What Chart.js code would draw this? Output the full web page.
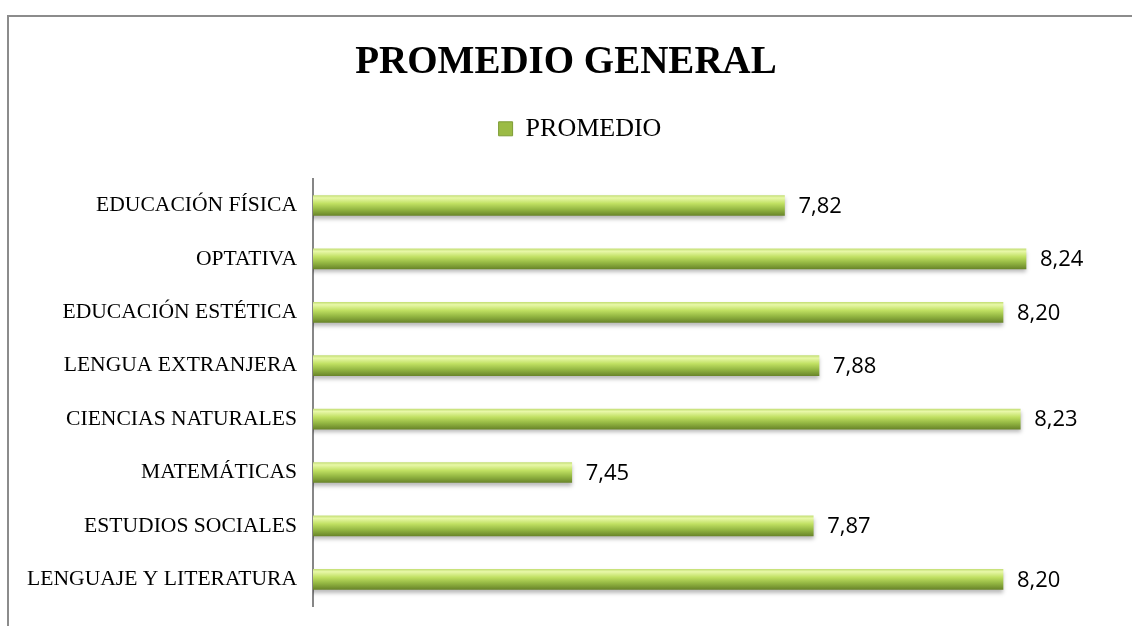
<!DOCTYPE html>
<html>
<head>
<meta charset="utf-8">
<script src="https://cdn.jsdelivr.net/npm/chart.js@4/dist/chart.umd.min.js"></script>
<style>
  html, body { margin: 0; padding: 0; background: #fff; overflow: hidden; }
  #frame {
    position: absolute; left: 7px; top: 15px; width: 1200px; height: 700px;
    border-top: 2px solid #8c8c8c; border-left: 2px solid #8c8c8c;
  }
  #wrap { position: absolute; left: 0; top: 0; width: 1132px; height: 626px; }
</style>
</head>
<body>
<div id="frame"></div>
<div id="wrap"><canvas id="promedio-chart" width="1132" height="626"></canvas></div>
<script>
// data, top to bottom
const subjects = [
  "EDUCACIÓN FÍSICA",
  "OPTATIVA",
  "EDUCACIÓN ESTÉTICA",
  "LENGUA EXTRANJERA",
  "CIENCIAS NATURALES",
  "MATEMÁTICAS",
  "ESTUDIOS SOCIALES",
  "LENGUAJE Y LITERATURA",
];
const promedio = [7.82, 8.24, 8.2, 7.88, 8.23, 7.45, 7.87, 8.2];
const axisMin = 7;
const axisMax = 8.4;

const barThickness = 20;

// vertical gradient for each bar, built from the category scale
const barGradient = (context) => {
  const chart = context.chart;
  const yScale = chart.scales.y;
  if (!yScale || context.dataIndex === undefined) return "#9bbb45";
  const center = yScale.getPixelForValue(context.dataIndex);
  const top = center - barThickness / 2;
  const g = chart.ctx.createLinearGradient(0, top, 0, top + barThickness);
  g.addColorStop(0, "#c6e078");
  g.addColorStop(0.12, "#e8f8a8");
  g.addColorStop(0.4, "#c0e062");
  g.addColorStop(0.7, "#93b642");
  g.addColorStop(1, "#6a862a");
  return g;
};

// more room under the legend, and shift it a bit to the right like the original
const legendSpacing = {
  id: "legendSpacing",
  beforeInit(chart) {
    const fit = chart.legend.fit;
    chart.legend.fit = function () {
      fit.bind(chart.legend)();
      this.height += 27;
    };
  },
  afterLayout(chart) {
    chart.legend.left += 14;
    chart.legend.right += 14;
  },
};

// soft shadow under the bars + value labels after them
const barDecor = {
  id: "barDecor",
  beforeDatasetsDraw(chart) {
    const ctx = chart.ctx;
    ctx.save();
    ctx.shadowColor = "rgba(0,0,0,0.28)";
    ctx.shadowBlur = 4;
    ctx.shadowOffsetY = 3;
  },
  afterDatasetsDraw(chart) {
    const ctx = chart.ctx;
    ctx.restore();
    const meta = chart.getDatasetMeta(0);
    ctx.save();
    ctx.font = "22px 'Open Sans'";
    ctx.fillStyle = "#000";
    ctx.textAlign = "left";
    ctx.textBaseline = "middle";
    meta.data.forEach((bar, i) => {
      const txt = promedio[i].toFixed(2).replace(".", ",");
      ctx.fillText(txt, bar.x + 14, bar.y + 1);
    });
    ctx.restore();
  },
};

const ctxPromedio = document.getElementById("promedio-chart");

new Chart(ctxPromedio, {
  type: "bar",
  data: {
    labels: subjects,
    datasets: [
      {
        label: "PROMEDIO",
        data: promedio,
        backgroundColor: barGradient,
        borderWidth: 0,
        barThickness: barThickness,
      },
    ],
  },
  plugins: [legendSpacing, barDecor],
  options: {
    indexAxis: "y",
    responsive: false,
    animation: false,
    layout: {
      padding: { top: 18, right: 14, bottom: 20, left: 14 },
    },
    scales: {
      x: {
        display: false,
        min: axisMin,
        max: axisMax,
      },
      y: {
        grid: { display: false, drawTicks: false },
        border: { display: true, color: "#868686", width: 2 },
        ticks: {
          color: "#000",
          padding: 16,
          font: { family: "'Liberation Serif'", size: 21.6 },
        },
        afterFit: (scale) => {
          scale.width = 299;
          scale.paddingTop = 0;
          scale.paddingBottom = 0;
        },
      },
    },
    plugins: {
      title: {
        display: true,
        text: "PROMEDIO GENERAL",
        color: "#000",
        font: { family: "'Liberation Serif'", size: 39, weight: "bold" },
        padding: { top: 22, bottom: 19 },
      },
      legend: {
        position: "top",
        labels: {
          color: "#000",
          boxWidth: 14,
          boxHeight: 14,
          padding: 10,
          font: { family: "'Liberation Serif'", size: 26 },
          generateLabels: () => [
            {
              text: "PROMEDIO",
              fillStyle: "#9bbb45",
              strokeStyle: "#7e9c36",
              lineWidth: 1,
              hidden: false,
              datasetIndex: 0,
            },
          ],
        },
      },
      tooltip: { enabled: false },
    },
  },
});
</script>
</body>
</html>
